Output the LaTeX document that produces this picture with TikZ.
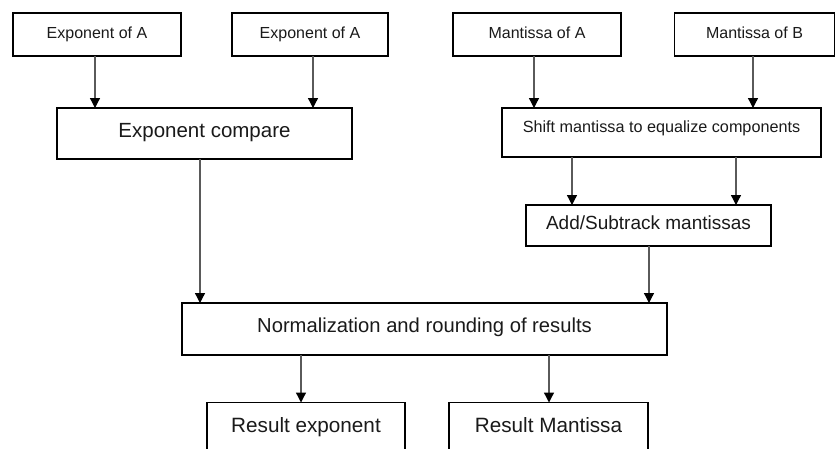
\documentclass[tikz,border=0pt]{standalone}
\usepackage{fontspec}
\setmainfont{Liberation Sans}
\usetikzlibrary{arrows.meta}
\definecolor{txt}{HTML}{1A1A1A}
\definecolor{linegray}{HTML}{5A5A5A}
\tikzset{
  box/.style={draw=black, line width=1.8pt, fill=white, inner sep=0pt, text=txt, outer sep=0pt, text height=0.72em, text depth=0pt},
  arr/.style={draw=linegray, line width=1.3pt, -{Triangle[width=10pt,length=10pt,color=black]}},
  fsmall/.style={font=\fontsize{16}{19}\selectfont},
  fmid/.style={font=\fontsize{19}{22}\selectfont},
  fbig/.style={font=\fontsize{20.5}{24}\selectfont}
}
\begin{document}
\begin{tikzpicture}[x=1pt,y=-1pt]
\useasboundingbox (0,0) rectangle (836,448);
\clip (0,0) rectangle (836,448);
\fill[white] (0,0) rectangle (836,448);
% top row
\node[box,fsmall,minimum width=168pt,minimum height=43pt] (ea) at (97,34.5) {Exponent of A};
\node[box,fsmall,minimum width=156pt,minimum height=43pt] (eb) at (310,34.5) {Exponent of A};
\node[box,fsmall,minimum width=168pt,minimum height=43pt] (ma) at (537,34.5) {Mantissa of A};
\node[box,fsmall,minimum width=160pt,minimum height=43pt] (mb) at (754.5,34.5) {Mantissa of B};
% second row
\node[box,fbig,minimum width=295pt,minimum height=51pt] (cmp) at (204.5,133.5) {Exponent compare};
\node[box,minimum width=319pt,minimum height=49pt] (shift) at (661.5,132.5) {};
\node[text=txt,inner sep=0pt,text height=0.72em,text depth=0pt,font=\fontsize{16.2}{19}\selectfont] (shiftt) at (661.5,129) {Shift mantissa to equalize components};
% add
\node[box,fmid,minimum width=245pt,minimum height=41pt] (add) at (648.5,225.5) {Add/Subtrack mantissas};
% normalization
\node[box,font=\fontsize{20.2}{24}\selectfont,minimum width=485pt,minimum height=52pt] (norm) at (424.5,329) {Normalization and rounding of results};
% results
\node[box,font=\fontsize{20.7}{24}\selectfont,minimum width=198pt,minimum height=52pt] (re) at (306,428.5) {Result exponent};
\node[box,font=\fontsize{20.7}{24}\selectfont,minimum width=199pt,minimum height=52pt] (rm) at (548.5,428.5) {Result Mantissa};
% connector x positions
\coordinate (x1) at (95,0);
\coordinate (x2) at (313,0);
\coordinate (x3) at (534,0);
\coordinate (x4) at (753,0);
\coordinate (x5) at (572,0);
\coordinate (x6) at (736,0);
\coordinate (x7) at (200,0);
\coordinate (x8) at (649,0);
\coordinate (x9) at (301,0);
\coordinate (x10) at (549,0);
% connectors
\draw[arr] (ea.south -| x1) -- (cmp.north -| x1);
\draw[arr] (eb.south -| x2) -- (cmp.north -| x2);
\draw[arr] (ma.south -| x3) -- (shift.north -| x3);
\draw[arr] (mb.south -| x4) -- (shift.north -| x4);
\draw[arr] (shift.south -| x5) -- (add.north -| x5);
\draw[arr] (shift.south -| x6) -- (add.north -| x6);
\draw[arr] (cmp.south -| x7) -- (norm.north -| x7);
\draw[arr] (add.south -| x8) -- (norm.north -| x8);
\draw[arr] (norm.south -| x9) -- (re.north -| x9);
\draw[arr] (norm.south -| x10) -- (rm.north -| x10);
\end{tikzpicture}
\end{document}
